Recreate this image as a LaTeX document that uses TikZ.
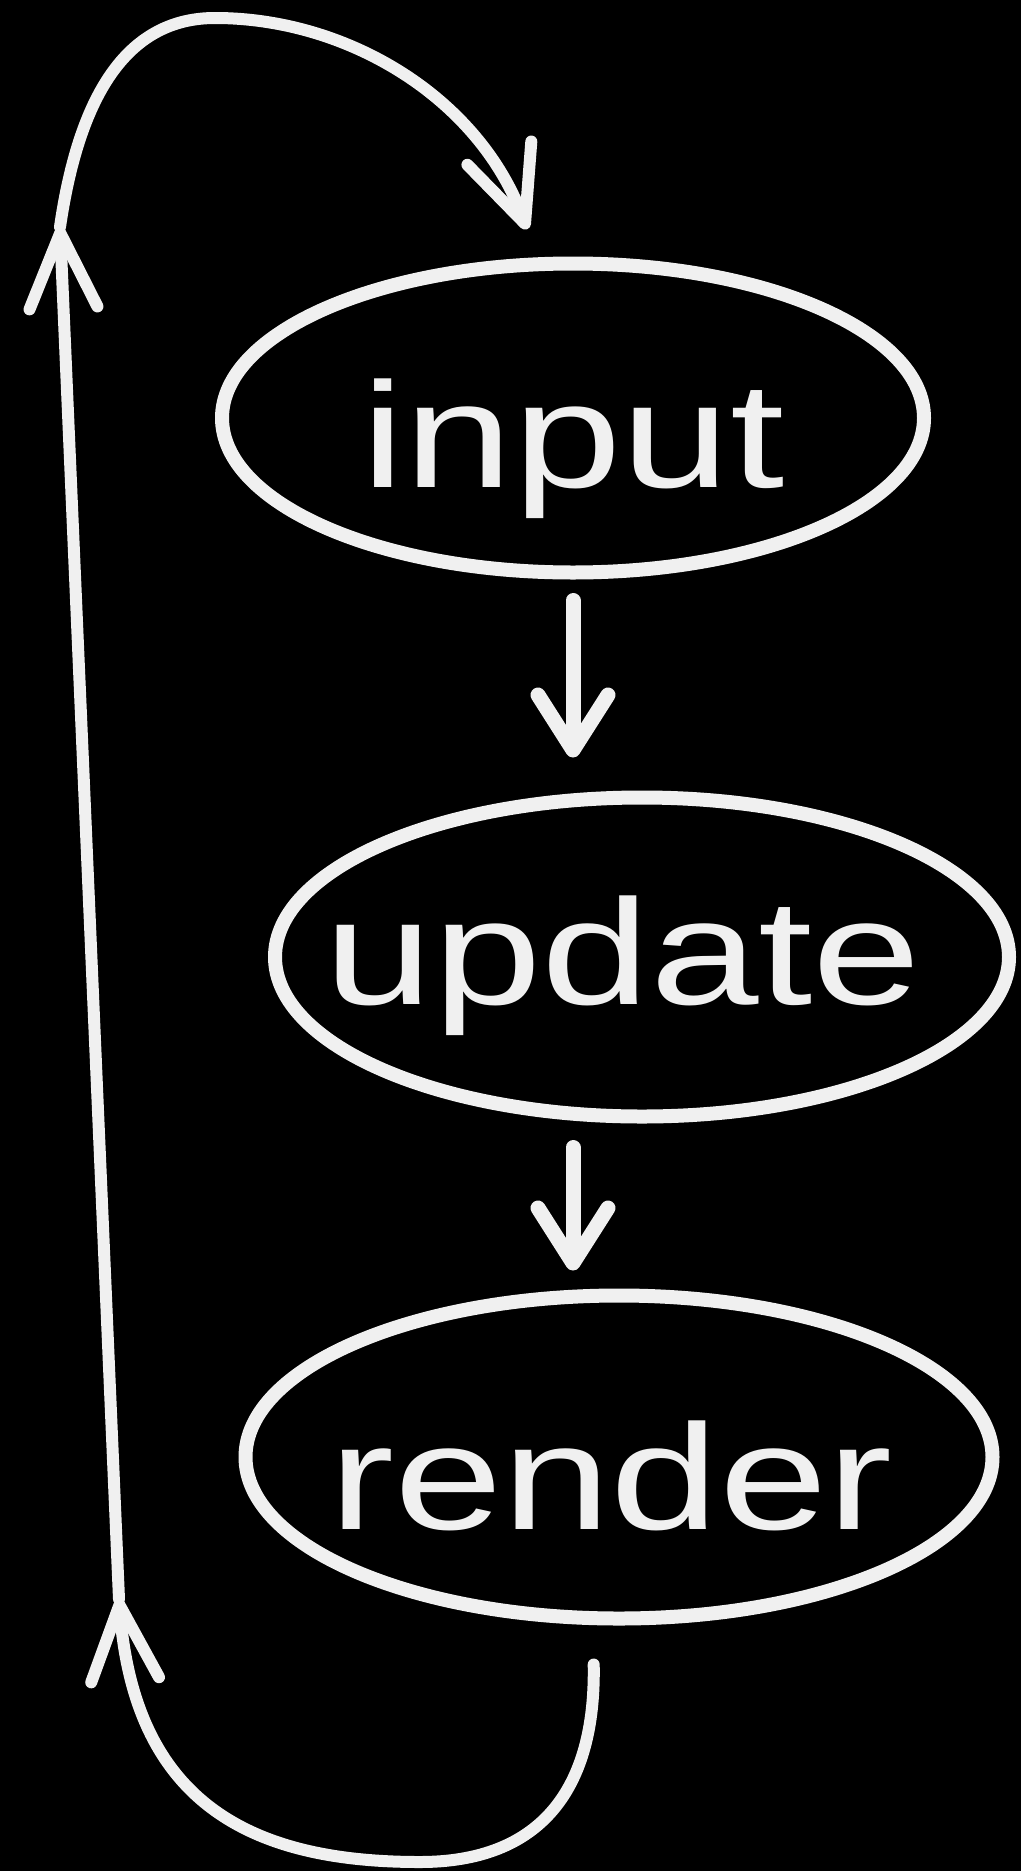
\documentclass[tikz,border=0pt]{standalone}
\usepackage{fontspec}
\newfontfamily\handfont[FakeStretch=1.3]{Liberation Sans}
\usetikzlibrary{arrows.meta,shapes.geometric,calc}
\definecolor{chalkwhite}{HTML}{F0F0F0}

\begin{document}
\begin{tikzpicture}[x=1pt,y=-1pt,line width=12pt,line cap=round,line join=round,
  >={Straight Barb[round,length=75pt,width=68pt]},
  oval/.style={ellipse,draw=chalkwhite,line width=14pt,inner sep=0pt},
  word/.style={text=chalkwhite,font=\handfont\fontsize{150}{160}\selectfont,inner sep=0pt,text height=140pt,text depth=14pt},
  stub/.style={-{Straight Barb[round,length=55pt,width=70pt]},draw=chalkwhite,line width=15pt}]
 \useasboundingbox (0,0) rectangle (1020,1871);
 \fill[black] (-10,-10) rectangle (1030,1881);
 \foreach \n/\t/\x/\y/\w/\h/\dx/\dy in {in/input/573/418/702/309/0/6,up/update/642/957/734/319/-19/-16,re/render/619/1457/747/323/-8/9}{
  \node[oval,minimum width=\w pt,minimum height=\h pt] (\n) at(\x,\y){};
  \node[word] (\n-txt) at($(\n)+(\dx,\dy)$){\t};}
 \draw[stub,shorten <=21pt,shorten >=33pt] (in.south)--(in.south |- up.north);
 \draw[stub,shorten <=24pt,shorten >=18pt] (up.south -| in.south)--(re.north -| in.south);
 \coordinate (lowturn) at(119,1599);
 \coordinate (topturn) at(60,227);
 \draw[->,chalkwhite,shorten <=39pt] ([xshift=-26pt]re.south) .. controls (596,1790) and (540,1862) .. (420,1862)
  .. controls (260,1862) and (135,1810) .. (lowturn);
 \draw[->,chalkwhite] (lowturn)--(topturn);
 \draw[->,chalkwhite,shorten >=29pt] (topturn) .. controls (80,90) and (130,18) .. (215,18)
  .. controls (350,18) and (480,100) .. ([xshift=-36pt]in.north);
\end{tikzpicture}
\end{document}
